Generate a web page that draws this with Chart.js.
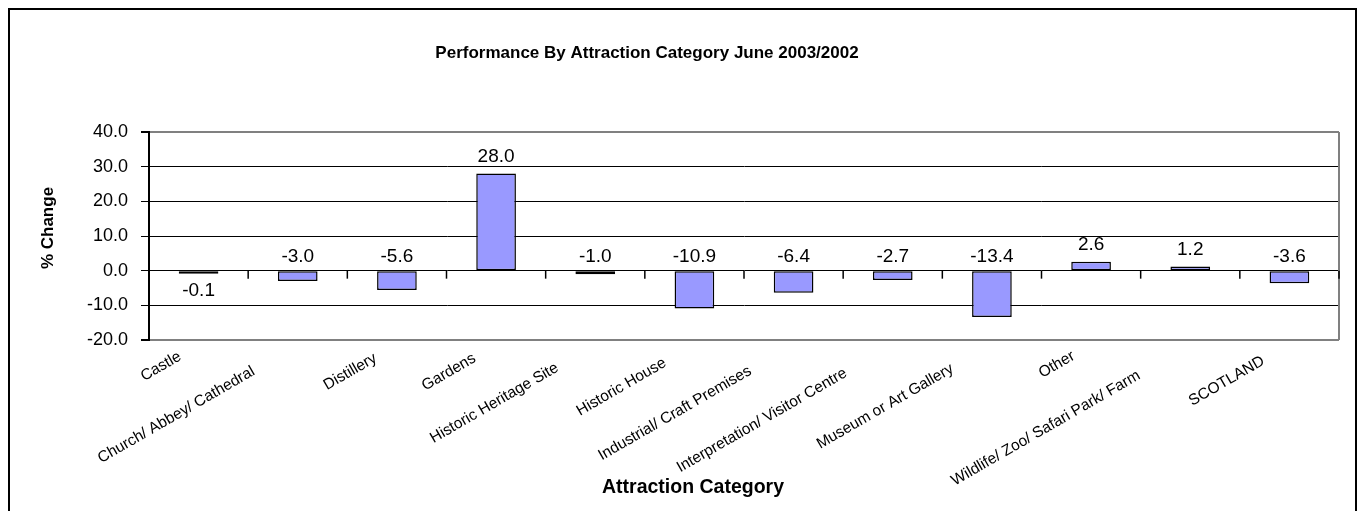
<!DOCTYPE html>
<html>
<head>
<meta charset="utf-8">
<script src="https://cdn.jsdelivr.net/npm/chart.js@4"></script>
<style>
  html, body { margin: 0; padding: 0; background: #fff; }
  #wrap { position: relative; width: 1359px; height: 511px; overflow: hidden; }
  #frame { position: absolute; left: 8px; top: 8px; width: 1345px; height: 520px; border: 2px solid #000; }
  #chart { position: absolute; left: 0; top: 0; }
</style>
</head>
<body>
<div id="wrap">
  <div id="frame"></div>
  <canvas id="chart" width="1359" height="511"></canvas>
</div>
<script>
// data
const chartTitle = 'Performance By Attraction Category June 2003/2002';
const xTitle = 'Attraction Category';
const yTitle = '% Change';
const categories = [
  'Castle',
  'Church/ Abbey/ Cathedral',
  'Distillery',
  'Gardens',
  'Historic Heritage Site',
  'Historic House',
  'Industrial/ Craft Premises',
  'Interpretation/ Visitor Centre',
  'Museum or Art Gallery',
  'Other',
  'Wildlife/ Zoo/ Safari Park/ Farm',
  'SCOTLAND'
];
const changes = [-0.1, -3.0, -5.6, 28.0, -1.0, -10.9, -6.4, -2.7, -13.4, 2.6, 1.2, -3.6];
const yTicks = [-20, -10, 0, 10, 20, 30, 40];

const FONT = '"Liberation Sans", Arial, sans-serif';

// titles, placed like the excel original (not quite centred)
const titles = {
  id: 'titles',
  afterDraw(chart) {
    const ctx = chart.ctx;
    ctx.save();
    ctx.fillStyle = '#000';
    ctx.textAlign = 'center';
    ctx.textBaseline = 'middle';
    ctx.font = 'bold 17px ' + FONT;
    ctx.fillText(chartTitle, 647, 53);
    ctx.font = 'bold 19.5px ' + FONT;
    ctx.fillText(xTitle, 693, 488);
    ctx.translate(48, 228);
    ctx.rotate(-Math.PI / 2);
    ctx.font = 'bold 17px ' + FONT;
    ctx.fillText(yTitle, 0, 0);
    ctx.restore();
  }
};

// category labels rotated 30deg, longer ones slide a little further down-left
const catLabels = {
  id: 'catLabels',
  afterDraw(chart) {
    const ctx = chart.ctx;
    const x = chart.scales.x;
    ctx.save();
    ctx.font = '15.5px ' + FONT;
    ctx.fillStyle = '#000';
    ctx.textAlign = 'right';
    ctx.textBaseline = 'top';
    categories.forEach((lab, i) => {
      const w = ctx.measureText(lab).width;
      ctx.save();
      ctx.translate(x.getPixelForValue(i) - 14, x.top + 4);
      ctx.rotate(-Math.PI / 6);
      ctx.fillText(lab, -0.22 * w, 0);
      ctx.restore();
    });
    ctx.restore();
  }
};

// grey right edge of the plot area + tick marks on the zero line
const plotFrame = {
  id: 'plotFrame',
  beforeDatasetsDraw(chart) {
    const { ctx, chartArea } = chart;
    ctx.save();
    ctx.strokeStyle = '#808080';
    ctx.lineWidth = 2;
    ctx.beginPath();
    ctx.moveTo(chartArea.right, chartArea.top);
    ctx.lineTo(chartArea.right, chartArea.bottom);
    ctx.stroke();
    ctx.restore();
  },
  afterDatasetsDraw(chart) {
    const { ctx } = chart;
    const x = chart.scales.x;
    const y0 = chart.scales.y.getPixelForValue(0);
    const step = x.getPixelForValue(1) - x.getPixelForValue(0);
    ctx.save();
    ctx.strokeStyle = '#000';
    ctx.lineWidth = 1.5;
    for (let i = 0; i < categories.length; i++) {
      const bx = x.getPixelForValue(i) + step / 2;
      ctx.beginPath();
      ctx.moveTo(bx, y0);
      ctx.lineTo(bx, y0 + 8);
      ctx.stroke();
    }
    ctx.restore();
  }
};

// value labels
const valueLabels = {
  id: 'valueLabels',
  afterDatasetsDraw(chart) {
    const { ctx } = chart;
    const meta = chart.getDatasetMeta(0);
    const y0 = chart.scales.y.getPixelForValue(0);
    ctx.save();
    ctx.font = '19px ' + FONT;
    ctx.fillStyle = '#000';
    ctx.textAlign = 'center';
    ctx.textBaseline = 'alphabetic';
    meta.data.forEach((bar, i) => {
      const v = changes[i];
      let ty;
      if (v >= 0) ty = bar.y - 12;
      else if (v > -0.5) ty = bar.y + 22;
      else ty = y0 - 9;
      ctx.fillText(v.toFixed(1), bar.x, ty);
    });
    ctx.restore();
  }
};

const ctx = document.getElementById('chart').getContext('2d');
new Chart(ctx, {
  type: 'bar',
  data: {
    labels: categories,
    datasets: [{
      data: changes,
      backgroundColor: '#9999FF',
      borderColor: '#000',
      borderWidth: 1.5,
      borderSkipped: false,
      minBarLength: 3,
      barPercentage: 0.4,
      categoryPercentage: 1
    }]
  },
  options: {
    responsive: false,
    animation: false,
    layout: { padding: { left: 34, right: 20, top: 132, bottom: 0 } },
    plugins: {
      legend: { display: false },
      tooltip: { enabled: false },
      title: { display: false }
    },
    scales: {
      x: {
        grid: { display: false },
        border: { display: false },
        ticks: { display: false },
        afterFit(scale) { scale.height = 171; }
      },
      y: {
        min: yTicks[0],
        max: yTicks[yTicks.length - 1],
        border: { display: true, color: '#000', width: 2 },
        grid: {
          color: c => (c.tick && (c.tick.value === yTicks[0] || c.tick.value === yTicks[yTicks.length - 1])) ? '#808080' : '#000',
          lineWidth: c => (c.tick && (c.tick.value === yTicks[0] || c.tick.value === yTicks[yTicks.length - 1])) ? 2 : 1,
          tickColor: '#000',
          tickLength: 8
        },
        ticks: {
          stepSize: yTicks[1] - yTicks[0],
          padding: 13,
          color: '#000',
          font: { family: FONT, size: 18 },
          callback: v => v.toFixed(1)
        },
        afterFit(scale) { scale.width = 115; }
      }
    }
  },
  plugins: [titles, catLabels, plotFrame, valueLabels]
});
</script>
</body>
</html>
